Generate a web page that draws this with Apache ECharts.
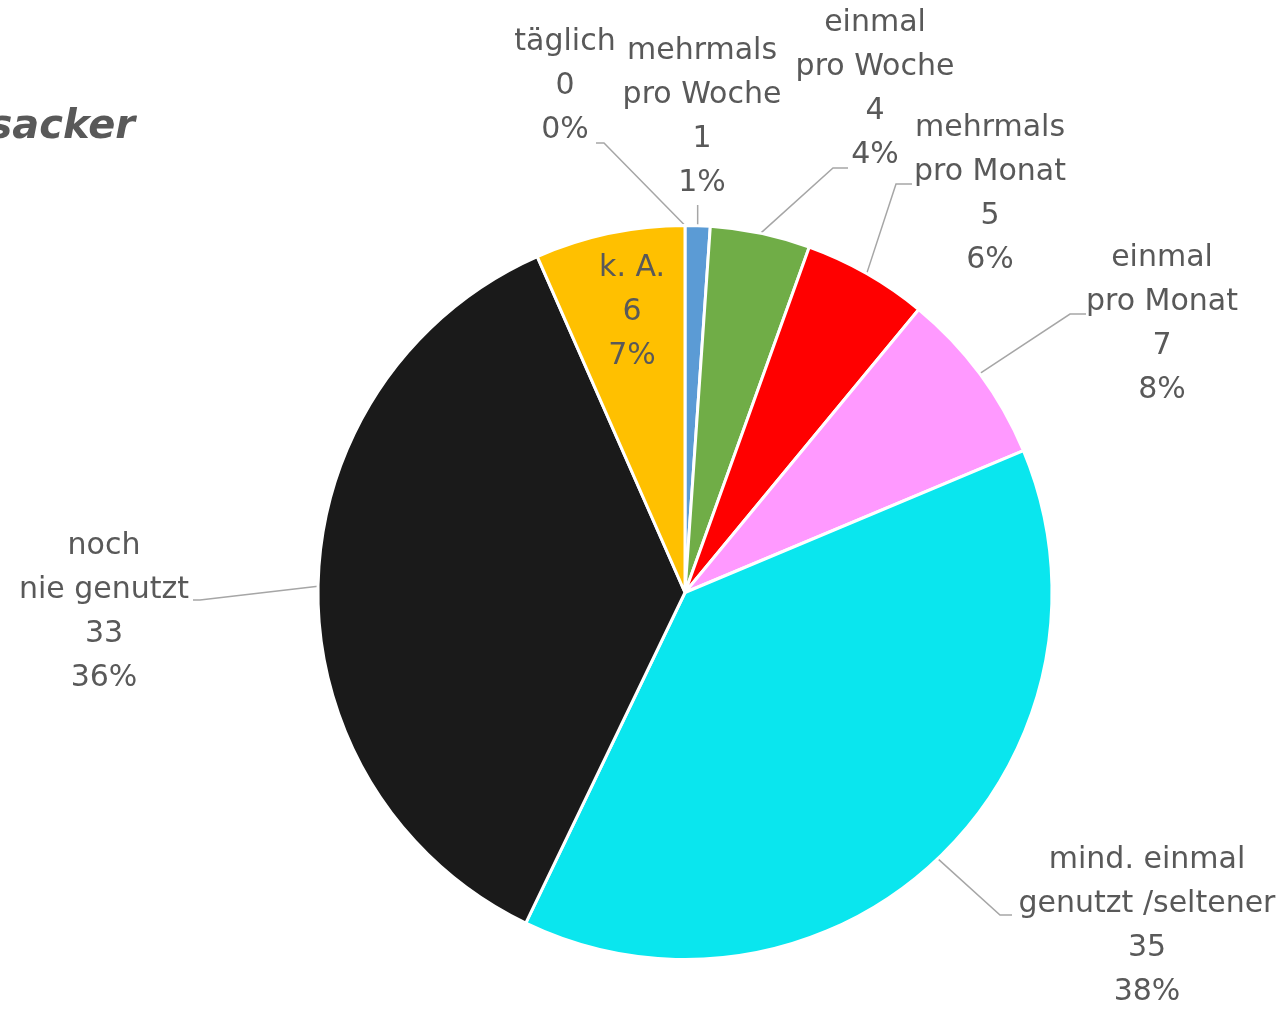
<!DOCTYPE html>
<html>
<head>
<meta charset="utf-8">
<script src="https://cdn.jsdelivr.net/npm/echarts@6/dist/echarts.min.js"></script>
<style>html,body{margin:0;padding:0;background:#fff;}#chart{width:1286px;height:1009px;}</style>
</head>
<body>
<div id="chart"></div>
<script>
// ---- data ----
const categories = ['täglich', 'mehrmals\npro Woche', 'einmal\npro Woche', 'mehrmals\npro Monat', 'einmal\npro Monat', 'mind. einmal\ngenutzt /seltener', 'noch\nnie genutzt', 'k. A.'];
const values = [0, 1, 4, 5, 7, 35, 33, 6];
const percentLabels = ['0%', '1%', '4%', '6%', '8%', '38%', '36%', '7%'];
const colors = ['#5B9BD5', '#5B9BD5', '#70AD47', '#FF0000', '#FF99FF', '#0AE6EE', '#1A1A1A', '#FFC000'];
const titleText = 'sacker';

// ---- label placement (layout only) ----
const labelPos = [[565, 86], [702, 117], [875, 89], [990, 194], [1162, 324], [1147, 926], [104, 612], [632, 312]];
const lineElbow = [[604, 143], null, [833, 168], [896, 184], [1070, 314], [1000, 915], [200, 600], null];
const lineEnd = [[596, 143], [null, 205], [848, 168], [912, 184], [1086, 314], [1012, 915], [193, 600], null];

const chart = echarts.init(document.getElementById('chart'), null, { renderer: 'canvas' });
const data = categories.map((c, i) => {
  const d = { name: c, value: values[i], itemStyle: { color: colors[i] } };
  if (i === 7) { d.label = { position: 'inside' }; d.labelLine = { show: false }; }
  return d;
});

chart.setOption({
  animation: false,
  backgroundColor: '#ffffff',
  graphic: [{
    type: 'text', x: 135, y: 128,
    style: { text: titleText, textAlign: 'right', textVerticalAlign: 'middle', fill: '#595959',
      font: 'italic bold 40px "DejaVu Sans"' }
  }],
  series: [{
    type: 'pie',
    center: [685, 592.5],
    radius: 367,
    startAngle: 90,
    clockwise: true,
    avoidLabelOverlap: false,
    minShowLabelAngle: 0,
    data: data,
    itemStyle: { borderColor: '#ffffff', borderWidth: 3 },
    label: {
      show: true,
      position: 'outside',
      overflow: 'none',
      color: '#595959',
      fontFamily: 'DejaVu Sans',
      fontSize: 30,
      lineHeight: 44,
      align: 'center',
      formatter: p => p.name + '\n' + p.value + '\n' + percentLabels[p.dataIndex]
    },
    labelLine: { show: true, lineStyle: { color: '#A6A6A6', width: 1.5 }, length: 20, length2: 10 },
    emphasis: { disabled: true },
    labelLayout: function (p) {
      const i = p.dataIndex;
      const res = { x: labelPos[i][0], y: labelPos[i][1], align: 'center', verticalAlign: 'middle' };
      const pts = p.labelLinePoints;
      if (pts && lineEnd[i]) {
        const start = pts[0];
        const end = [lineEnd[i][0] == null ? start[0] : lineEnd[i][0], lineEnd[i][1]];
        res.labelLinePoints = lineElbow[i] ? [start, lineElbow[i], end] : [start, [start[0], (start[1] + end[1]) / 2], end];
      }
      return res;
    }
  }]
});
</script>
</body>
</html>
